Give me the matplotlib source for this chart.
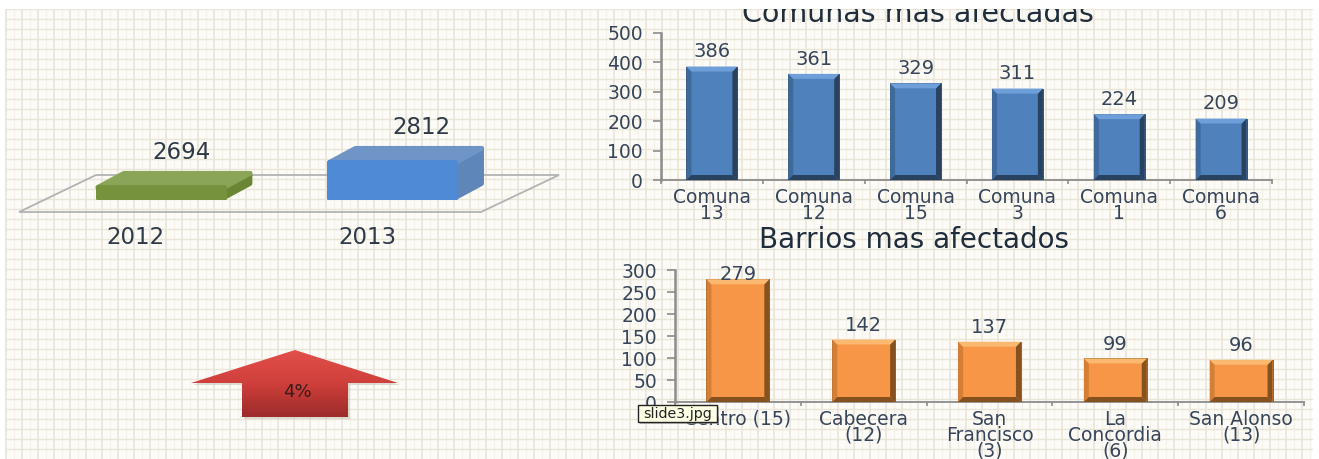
import numpy as np
import matplotlib
matplotlib.use('Agg')
import matplotlib.pyplot as plt
from matplotlib.colors import LinearSegmentedColormap
from matplotlib.patches import Polygon, Rectangle

years = ['2012', '2013']
year_values = [2694, 2812]
change_label = '4%'

comunas = ['Comuna\n13', 'Comuna\n12', 'Comuna\n15', 'Comuna\n3', 'Comuna\n1', 'Comuna\n6']
comuna_values = [386, 361, 329, 311, 224, 209]

barrios = ['Centro (15)', 'Cabecera\n(12)', 'San\nFrancisco\n(3)', 'La\nConcordia\n(6)', 'San Alonso\n(13)']
barrio_values = [279, 142, 137, 99, 96]

W, H = 1319, 459
TEXT = '#36455a'
plt.rcParams['font.family'] = ['DejaVu Sans']

fig = plt.figure(figsize=(W / 100, H / 100), dpi=100, facecolor='white')


def px_axes(left, top, right, bottom, zorder=1):
    # axes placed by pixel box, y measured from the top of the image
    ax = fig.add_axes([left / W, 1 - bottom / H, (right - left) / W, (bottom - top) / H], zorder=zorder)
    ax.patch.set_visible(False)
    return ax


# background grid paper
bg = px_axes(0, 0, W, H, zorder=0)
bg.set_xlim(0, W)
bg.set_ylim(H, 0)
bg.axis('off')
bg.add_patch(Rectangle((6, 9), 1306, 450, fc='#fcfbf7', ec='none'))
for x in np.arange(6, 1312, 16):
    bg.plot([x, x], [9, H], color='#ece9dc', lw=1.4)
    bg.plot([x + 8, x + 8], [9, H], color='#f4f2e9', lw=0.8)
for y in np.arange(9, H, 10):
    bg.plot([6, 1312], [y, y], color='#e9e6d8', lw=1.0)

# floor of the 3d chart
bg.add_patch(Polygon([(19, 212), (481, 212), (559, 175), (96, 175)], closed=True,
                     fc='none', ec='#b0b2b4', lw=1.3, zorder=5))


def bevel_bars(ax, x, values, width, main, dark, darker, light, bevel_px):
    ax.bar(x, values, width=width, color=main, edgecolor=darker, linewidth=0.6, zorder=3)
    box = ax.get_window_extent()
    x0, x1 = ax.get_xlim()
    y0, y1 = ax.get_ylim()
    bx = bevel_px * (x1 - x0) / box.width
    by = bevel_px * (y1 - y0) / box.height
    for xi, v in zip(x, values):
        l, r = xi - width / 2, xi + width / 2
        ax.add_patch(Polygon([(l, 0), (l + bx, by), (l + bx, v - by), (l, v)], fc=dark, ec='none', zorder=4))
        ax.add_patch(Polygon([(r, 0), (r - bx, by), (r - bx, v - by), (r, v)], fc=darker, ec='none', zorder=4))
        ax.add_patch(Polygon([(l, 0), (r, 0), (r - bx, by), (l + bx, by)], fc=darker, ec='none', zorder=4))
        ax.add_patch(Polygon([(l, v), (r, v), (r - bx, v - by), (l + bx, v - by)], fc=light, ec='none', zorder=4))


def style_axes(ax, labels, ticks, n):
    ax.set_xlim(-0.5, n - 0.5)
    ax.set_ylim(0, ticks[-1])
    ax.set_yticks(ticks)
    ax.set_xticks(np.arange(n + 1) - 0.5)
    ax.set_xticks(np.arange(n), minor=True)
    ax.set_xticklabels([])
    ax.set_xticklabels(labels, minor=True, fontsize=13.5, color=TEXT, linespacing=0.8, va='top')
    ax.tick_params(axis='x', which='major', length=3, width=1.2, color='#8c8c8c')
    ax.tick_params(axis='x', which='minor', length=0, pad=5.5)
    ax.tick_params(axis='y', length=6, width=1.2, color='#8c8c8c', labelsize=13.5, labelcolor=TEXT, pad=7)
    for s in ['top', 'right']:
        ax.spines[s].set_visible(False)
    ax.spines['left'].set_color('#8c8c8c')
    ax.spines['left'].set_linewidth(1.8)
    ax.spines['bottom'].set_color('#8c8c8c')
    ax.spines['bottom'].set_linewidth(1.3)


# comunas chart
ax1 = px_axes(661, 33, 1272, 180)
style_axes(ax1, comunas, [0, 100, 200, 300, 400, 500], len(comunas))
bevel_bars(ax1, np.arange(len(comunas)), comuna_values, 0.5, '#4f81bd', '#3f6a9c', '#28425f', '#6f9fd8', 5)
for i, v in enumerate(comuna_values):
    ax1.annotate(str(v), (i, v), xytext=(0, 10.5), textcoords='offset points', ha='center', va='center',
                 fontsize=14, color=TEXT)

# barrios chart
ax2 = px_axes(675, 270, 1304, 402)
style_axes(ax2, barrios, [0, 50, 100, 150, 200, 250, 300], len(barrios))
bevel_bars(ax2, np.arange(len(barrios)), barrio_values, 0.5, '#f79646', '#d57f36', '#84511f', '#fbb870', 5)
for i, v in enumerate(barrio_values):
    off = 3.5 if v == max(barrio_values) else 10
    ax2.annotate(str(v), (i, v), xytext=(0, off), textcoords='offset points', ha='center', va='center',
                 fontsize=14, color=TEXT, zorder=5)

fig.text(918 / W, 1 - 14 / H, 'Comunas mas afectadas', ha='center', va='center', fontsize=20.5, color='#1f2d3d')
fig.text(914 / W, 1 - 240 / H, 'Barrios mas afectados', ha='center', va='center', fontsize=20, color='#1f2d3d')

# 2012 / 2013 boxes, value axis does not start at zero
ax3 = px_axes(19, 120, 559, 200)
ax3.set_xlim(-0.6126, 1.719)
ax3.set_ylim(2623, 3000.5)
ax3.axis('off')
px_x = (ax3.get_xlim()[1] - ax3.get_xlim()[0]) / 540
px_y = (ax3.get_ylim()[1] - ax3.get_ylim()[0]) / 80
dep_x, dep_y = 26 * px_x, 14 * px_y
box_w = 131 * px_x
base = ax3.get_ylim()[0]
ex, ey = 2.5 * px_x, 2.5 * px_y  # inset so the thick round edge lands on the box outline
styles = [('#76923c', '#6a8534', '#8aa557'), ('#4f8ad6', '#5f86b8', '#6f94c6')]
for i, (v, st) in enumerate(zip(year_values, styles)):
    l, r = i - box_w / 2 + ex, i + box_w / 2 - ex
    b, t = base + ey, v - ey
    ax3.add_patch(Polygon([(r, b), (r + dep_x, b + dep_y), (r + dep_x, t + dep_y), (r, t)],
                          fc=st[1], ec=st[1], lw=3.6, joinstyle='round', zorder=2))
    ax3.add_patch(Polygon([(l, t), (r, t), (r + dep_x, t + dep_y), (l + dep_x, t + dep_y)],
                          fc=st[2], ec=st[2], lw=3.6, joinstyle='round', zorder=2))
    ax3.bar(i, t - b, bottom=b, width=r - l, color=st[0], edgecolor=st[0], linewidth=3.6,
            joinstyle='round', zorder=3)
    ax3.annotate(str(v), (i, v + dep_y), xytext=([21, 29][i] * 0.72, 13), textcoords='offset points',
                 ha='center', va='center', fontsize=16.5, color='#2f3a48')
    ax3.annotate(years[i], (i, base), xytext=(-25 * 0.72, -27), textcoords='offset points',
                 ha='center', va='center', fontsize=16.5, color='#2f3a48')

# top layer, arrow with gradient, tooltip and the white band cutting the title
top = px_axes(0, 0, W, H, zorder=10)
top.set_xlim(0, W)
top.set_ylim(H, 0)
top.axis('off')
arrow_pts = [(295, 350), (398, 383), (348, 383), (348, 417), (242, 417), (242, 383), (191, 383)]
top.add_patch(Polygon([(x + 2, y + 2) for x, y in arrow_pts], fc='#b9b4a8', ec='none', alpha=0.45, zorder=1))
grad = np.linspace(0, 1, 64).reshape(-1, 1)
arrow_cmap = LinearSegmentedColormap.from_list('arrow', ['#e2504a', '#cf3f3b', '#9c2c2a'])
im = top.imshow(grad, extent=(191, 398, 417, 350), cmap=arrow_cmap, aspect='auto', zorder=2)
im.set_clip_path(Polygon(arrow_pts, closed=True, transform=top.transData))
top.set_xlim(0, W)
top.set_ylim(H, 0)
top.text(297, 392, change_label, ha='center', va='center', fontsize=13, color='#3a1a1a', zorder=3)

top.add_patch(Rectangle((640, 407), 79, 17, fc='#9a9a9a', ec='none', alpha=0.6, zorder=3))
top.add_patch(Rectangle((638, 405), 79, 17, fc='#ffffe6', ec='#222222', lw=1, zorder=4))
top.text(677.5, 414, 'slide3.jpg', ha='center', va='center', fontsize=10.3, color='#222222', zorder=5)
top.add_patch(Rectangle((0, 0), W, 8.5, fc='white', ec='none', zorder=6))

fig.savefig('out.png', dpi=100, facecolor='white')
